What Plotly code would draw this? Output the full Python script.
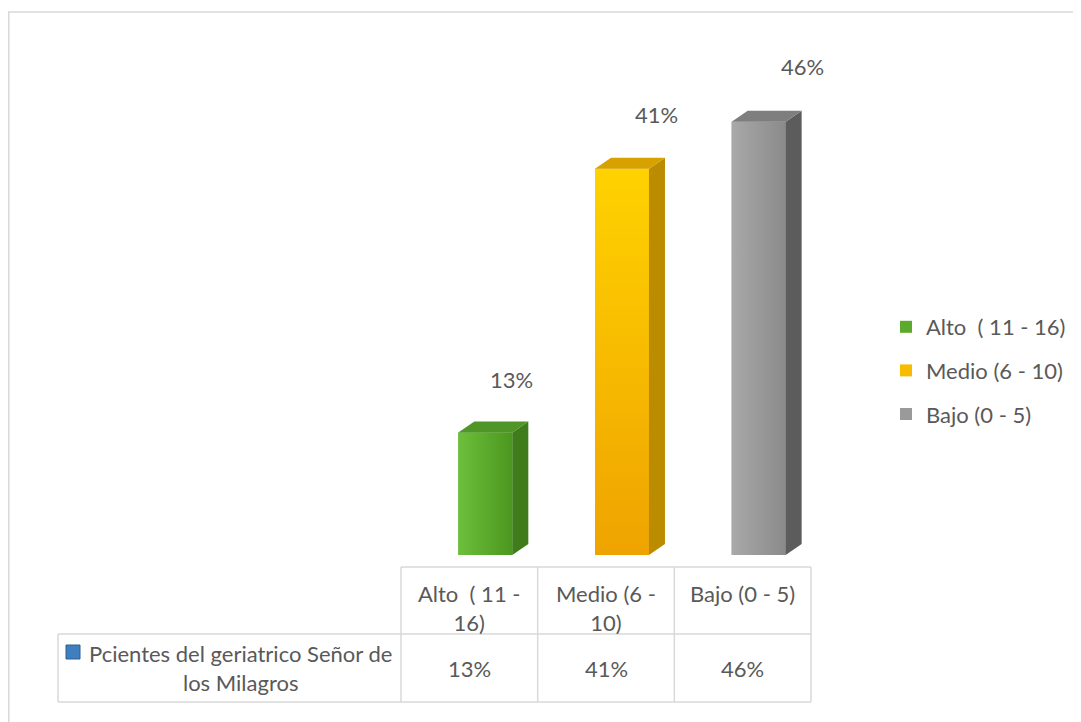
import plotly.graph_objects as go

# ---------------- data ----------------
categories = ["Alto  ( 11 - 16)", "Medio (6 - 10)", "Bajo (0 - 5)"]
header_labels = ["Alto  ( 11 -<br>16)", "Medio (6 -<br>10)", "Bajo (0 - 5)"]
values = [13, 41, 46]
series_name = "Pcientes del geriatrico Señor de<br>los Milagros"

# ---------------- styles ----------------
front_colors = ["#5BAA2E", "#F7BC00", "#9A9A9A"]
front_grad = [
    ("horizontal", [[0, "#6CBF3B"], [1, "#4C971F"]]),
    ("vertical", [[0, "#EFA300"], [1, "#FFD200"]]),
    ("horizontal", [[0, "#A9A9A9"], [1, "#8A8A8A"]]),
]
side_colors = ["#3E7C1C", "#BC8C00", "#5C5C5C"]
top_colors = ["#4F9527", "#D7A200", "#7E7E7E"]
text_color = "#595959"
grid_color = "#D9D9D9"
FONT = "Lato"
FS = 22

W, H = 1081, 722
OFF = 8                      # page body margin (screen px = figure px + 8)
L, R = 401 - OFF, 811 - OFF  # plot area in figure px
T, B = 40 - OFF, 555 - OFF
YMAX = (B - T) / 9.42
X_PX = (R - L) / 3.0
Y_PX = (B - T) / YMAX

def xp(sx):
    """screen px -> paper x"""
    return (sx - OFF - L) / (R - L)

def yp(sy):
    """screen px -> paper y"""
    return (B - (sy - OFF)) / (B - T)

off = 0.117
bw = 0.395
dx = 16 / X_PX
dy = 11 / Y_PX

fig = go.Figure()

for i, (cat, v) in enumerate(zip(categories, values)):
    xc = i + off
    x0, x1 = xc - bw / 2, xc + bw / 2
    fig.add_trace(go.Bar(
        x=[xc], y=[v], width=[bw], name=cat, legendgroup=cat,
        marker=dict(color=front_colors[i], line=dict(width=0)),
        hoverinfo="skip",
    ))
    gtype, gscale = front_grad[i]
    fig.add_trace(go.Scatter(
        x=[x0, x1, x1, x0, x0], y=[0, 0, v, v, 0], mode="lines",
        fill="toself", line=dict(width=0), showlegend=False, hoverinfo="skip",
        fillgradient=dict(type=gtype, colorscale=gscale), legendgroup=cat,
    ))
    fig.add_trace(go.Scatter(
        x=[x1, x1 + dx, x1 + dx, x1, x1], y=[0, dy, v + dy, v, 0], mode="lines",
        fill="toself", fillcolor=side_colors[i], line=dict(width=0),
        showlegend=False, hoverinfo="skip", legendgroup=cat,
    ))
    fig.add_trace(go.Scatter(
        x=[x0, x1, x1 + dx, x0 + dx, x0], y=[v, v, v + dy, v + dy, v], mode="lines",
        fill="toself", fillcolor=top_colors[i], line=dict(width=0),
        showlegend=False, hoverinfo="skip", legendgroup=cat,
    ))

annotations = []
for i, v in enumerate(values):
    annotations.append(dict(
        x=i + off, y=v, xref="x", yref="y", text=f"{v}%", showarrow=False,
        xshift=26 + 9 * i, yshift=53 + i, xanchor="center", yanchor="middle",
        font=dict(family=FONT, size=FS, color=text_color),
    ))

# ---------------- data table (screen px) ----------------
col_edges = [401 + k * (811 - 401) / 3 for k in range(4)]
tbl_left = 58
y_head_top, y_mid, y_bot = 567, 634, 702

shapes = []
def hline(xa, xb, y):
    shapes.append(dict(type="line", xref="paper", yref="paper",
                       x0=xp(xa), x1=xp(xb), y0=yp(y), y1=yp(y),
                       line=dict(color=grid_color, width=1.5)))
def vline(x, ya, yb):
    shapes.append(dict(type="line", xref="paper", yref="paper",
                       x0=xp(x), x1=xp(x), y0=yp(ya), y1=yp(yb),
                       line=dict(color=grid_color, width=1.5)))

hline(col_edges[0], col_edges[3], y_head_top)
hline(tbl_left, col_edges[3], y_mid)
hline(tbl_left, col_edges[3], y_bot)
for xe in col_edges:
    vline(xe, y_head_top, y_bot)
vline(tbl_left, y_mid, y_bot)

# outer chart border
shapes.append(dict(type="rect", xref="paper", yref="paper",
                   x0=xp(8.8), x1=xp(W + 20), y0=yp(12), y1=yp(H + 20),
                   line=dict(color=grid_color, width=1.5), fillcolor="rgba(0,0,0,0)"))

# series key in table
shapes.append(dict(type="rect", xref="paper", yref="paper",
                   x0=xp(66), x1=xp(80), y0=yp(645), y1=yp(659),
                   line=dict(color="#2E5E8E", width=1), fillcolor="#3F7FBF"))

for i, lab in enumerate(header_labels):
    cx = (col_edges[i] + col_edges[i + 1]) / 2
    annotations.append(dict(
        x=xp(cx), y=yp(578), xref="paper", yref="paper",
        text=lab, showarrow=False, xanchor="center", yanchor="top",
        font=dict(family=FONT, size=FS, color=text_color),
    ))

row_c = (y_mid + y_bot) / 2
for i, v in enumerate(values):
    cx = (col_edges[i] + col_edges[i + 1]) / 2
    annotations.append(dict(
        x=xp(cx), y=yp(row_c), xref="paper", yref="paper", text=f"{v}%",
        showarrow=False, xanchor="center", yanchor="middle",
        font=dict(family=FONT, size=FS, color=text_color),
    ))
annotations.append(dict(
    x=xp(240), y=yp(row_c), xref="paper", yref="paper", text=series_name,
    showarrow=False, xanchor="center", yanchor="middle", align="center",
    font=dict(family=FONT, size=FS, color=text_color),
))

fig.update_layout(
    width=W, height=H,
    margin=dict(l=L, r=W - R, t=T, b=H - B, pad=0),
    paper_bgcolor="white", plot_bgcolor="white",
    barmode="overlay",
    xaxis=dict(range=[-0.5, 2.5], visible=False, fixedrange=True),
    yaxis=dict(range=[0, YMAX], visible=False, fixedrange=True),
    showlegend=True,
    legend=dict(x=xp(886), xanchor="left", y=yp(306), yanchor="top",
                font=dict(family=FONT, size=FS, color=text_color),
                tracegroupgap=12, bgcolor="rgba(0,0,0,0)", traceorder="grouped"),
    shapes=shapes,
    annotations=annotations,
)

fig.write_html("out.html")
